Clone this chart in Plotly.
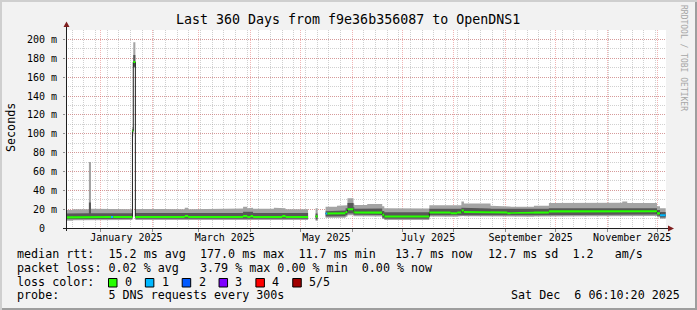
import plotly.graph_objects as go
import pandas as pd

# ---------------- data ----------------
graph_start = "2024-12-11 06:10:20"
graph_end = "2025-12-06 06:10:20"

seg_start = [
    "2024-12-11 06:10", "2024-12-15 12:00", "2024-12-25 00:00", "2024-12-26 06:00",
    "2025-01-01 00:00", "2025-01-07 06:00", "2025-01-08 12:00", "2025-01-20 03:00",
    "2025-01-20 15:00", "2025-01-21 21:00", "2025-02-05 00:00", "2025-02-20 12:00",
    "2025-02-22 12:00", "2025-03-10 00:00", "2025-03-27 12:00", "2025-03-30 00:00",
    "2025-04-01 00:00", "2025-04-02 12:00", "2025-04-15 00:00", "2025-04-20 00:00",
    "2025-04-22 00:00", "2025-05-05 12:00", "2025-05-10 00:00", "2025-05-11 06:00",
    "2025-05-16 00:00", "2025-05-17 00:00", "2025-05-22 20:00", "2025-05-28 00:00",
    "2025-05-29 03:00", "2025-06-01 18:00", "2025-06-02 06:00", "2025-06-10 00:00",
    "2025-06-19 00:00", "2025-06-20 06:00", "2025-07-05 00:00", "2025-07-17 06:00",
    "2025-07-30 00:00", "2025-08-03 00:00", "2025-08-05 12:00", "2025-08-07 00:00",
    "2025-08-23 00:00", "2025-09-02 00:00", "2025-09-04 00:00", "2025-09-18 00:00",
    "2025-09-27 00:00", "2025-10-15 00:00", "2025-11-10 00:00", "2025-11-13 00:00",
    "2025-11-30 20:00", "2025-12-02 16:00",
]
data_end = "2025-12-06 02:00"

N = None
ping1 = [7.7, 8.3, 8.4, 8.6, 8.6, 8.6, 8.6, 97, 170, 8.6, 8.6, 8.6, 8.6, 8.8, 8.8, 8.8,
         8.8, 8.8, 8.8, 8.8, 8.6, N, 7.7, N, 10.8, 10.8, 11.0, 12.0, 13.5, 12.5, 12.3, 12.3,
         9.5, 8.4, 8.4, 12.3, 12.0, 12.3, 12.8, 12.5, 12.3, 12.0, 12.0, 12.3, 12.8, 12.8,
         12.8, 12.8, 11.5, 9.8]
ping2 = [9.4, 9.6, 9.6, 9.8, 9.8, 9.8, 9.8, 100, 171, 9.8, 9.8, 9.8, 9.8, 10.0, 10.0, 10.0,
         10.0, 10.0, 10.0, 10.0, 9.8, N, 9.0, N, 12.3, 12.3, 12.5, 13.5, 15.5, 14.0, 13.8, 13.8,
         11.0, 9.8, 9.8, 13.6, 13.4, 13.6, 14.0, 13.8, 13.6, 13.4, 13.4, 13.6, 14.2, 14.2,
         14.2, 14.2, 13.0, 11.2]
median = [11.3, 11.6, 11.8, 11.6, 11.6, 11.6, 11.6, 103, 176, 11.6, 11.6, 12.6, 11.6, 11.6, 12.6, 11.6,
          12.6, 11.6, 11.6, 12.6, 11.6, N, 12.3, N, 15.3, 15.3, 15.6, 17.0, 19.8, 17.5, 16.5, 16.3,
          14.0, 12.2, 12.2, 16.5, 15.6, 16.5, 18.5, 17.0, 16.4, 15.6, 16.2, 16.5, 17.6, 17.8,
          17.8, 17.8, 15.5, 13.5]
ping4 = [15.4, 15.6, 27.0, 15.6, 15.8, 15.8, 15.6, 105, 183.5, 16.0, 15.8, 16.2, 15.8, 15.8, 17.2, 16.5,
         17.3, 15.8, 15.6, 16.2, 15.8, N, 15.5, N, 17.8, 17.8, 18.5, 21.0, 26.5, 22.0, 20.5, 20.8,
         18.0, 16.8, 16.6, 20.5, 20.3, 20.5, 21.5, 20.8, 20.5, 20.0, 20.0, 20.5, 21.0, 21.0,
         21.5, 21.0, 19.0, 17.0]
ping5 = [19.2, 20.0, 70.0, 20.4, 19.8, 20.2, 20.0, 107, 197, 20.4, 20.0, 21.5, 20.0, 20.6, 22.5, 21.0,
         21.5, 20.5, 21.5, 21.0, 20.0, N, 21.0, N, 22.5, 22.5, 23.6, 24.0, 31.5, 26.0, 24.5, 25.5,
         23.0, 21.0, 20.6, 24.0, 24.5, 24.0, 28.0, 26.0, 23.5, 22.8, 22.6, 23.5, 26.5, 26.8,
         28.0, 26.6, 23.0, 21.0]
loss = [0, 0, 0, 0, 0, 1, 0, 0, 0, 0, 0, 0, 0, 0, 0, 0,
        0, 0, 0, 0, 0, N, 0, N, 1, 0, 0, 0, 0, 0, 0, 0,
        0, 0, 0, 0, 0, 0, 0, 0, 0, 0, 0, 0, 0, 0,
        0, 0, 0, 1]

loss_labels = ["0", "1", "2", "3", "4", "5/5"]
loss_colors = ["#26ff00", "#00b8ff", "#0059ff", "#7e00ff", "#ff0000", "#a10000"]

y_ticks = [0, 20, 40, 60, 80, 100, 120, 140, 160, 180, 200]
y_ticktext = ["0\u00a0\u00a0"] + [f"{v} m" for v in y_ticks[1:]]
month_labels = ["January 2025", "March 2025", "May 2025", "July 2025",
                "September 2025", "November 2025"]
month_starts = ["2025-01-01", "2025-03-01", "2025-05-01", "2025-07-01",
                "2025-09-01", "2025-11-01"]

title = "Last 360 Days from f9e36b356087 to OpenDNS1"
# legend pieces: (text, left x in px, line index)
legend_pieces = [
    ("median rtt:  15.2 ms avg  177.0 ms max  11.7 ms min", 15.4, 0),
    ("13.7 ms now", 392.7, 0),
    ("12.7 ms sd  1.2   am/s", 486.0, 0),
    ("packet loss: 0.02 % avg   3.79 % max 0.00 % min  0.00 % now", 15.4, 1),
    ("loss color:", 15.4, 2),
    ("probe:       5 DNS requests every 300s", 15.4, 3),
]
date_text = "Sat Dec  6 06:10:20 2025"

# ---------------- geometry helpers ----------------
W, H = 697, 310
L, R, T, B = 66, 666, 30, 228
PW, PH = R - L, B - T


def px(x):
    return (x - L) / PW


def py(y):
    return (B - y) / PH


starts = [pd.Timestamp(s).to_pydatetime() for s in seg_start]
ends = starts[1:] + [pd.Timestamp(data_end).to_pydatetime()]
n = len(starts)


def runs(keyfun):
    out, cur, curkey = [], [], object()
    for i in range(n):
        k = keyfun(i)
        if k is None:
            if cur:
                out.append((curkey, cur))
            cur, curkey = [], object()
            continue
        if cur and k == curkey:
            cur.append(i)
        else:
            if cur:
                out.append((curkey, cur))
            cur, curkey = [i], k
    if cur:
        out.append((curkey, cur))
    return out


def band(lo, hi, idxs):
    xs, ys = [], []
    for i in idxs:
        xs += [starts[i], ends[i]]
        ys += [hi[i], hi[i]]
    for i in reversed(idxs):
        xs += [ends[i], starts[i]]
        ys += [lo[i], lo[i]]
    xs.append(xs[0]); ys.append(ys[0])
    xs.append(None); ys.append(None)
    return xs, ys


data_runs = runs(lambda i: None if median[i] is None else 1)

fig = go.Figure()

# smoke: outer (ping1..ping5) and inner (ping2..ping4)
for lo, hi, col in [(ping1, ping5, "#a4a4a4"), (ping2, ping4, "#585858")]:
    X, Y = [], []
    for _, idxs in data_runs:
        x, y = band(lo, hi, idxs)
        X += x; Y += y
    fig.add_trace(go.Scatter(x=X, y=Y, mode="lines", fill="toself", fillcolor=col,
                             line=dict(width=0, color=col), hoverinfo="skip",
                             showlegend=False))

# thin dark median line
MX, MY = [], []
for _, idxs in data_runs:
    for i in idxs:
        MX.append(starts[i]); MY.append(median[i])
    MX.append(ends[idxs[-1]]); MY.append(median[idxs[-1]])
    MX.append(None); MY.append(None)
fig.add_trace(go.Scatter(x=MX, y=MY, mode="lines", line=dict(color="#202020", width=1,
                         shape="hv"), hoverinfo="skip", showlegend=False, connectgaps=False))

# loss-coloured median band
sw = 1.1
med_lo = [None if m is None else m - sw for m in median]
med_hi = [None if m is None else m + sw for m in median]
by_color = {}
for key, idxs in runs(lambda i: loss[i]):
    x, y = band(med_lo, med_hi, idxs)
    bx, by = by_color.setdefault(key, ([], []))
    bx += x; by += y
for key, (bx, by) in sorted(by_color.items()):
    fig.add_trace(go.Scatter(x=bx, y=by, mode="lines", fill="toself",
                             fillcolor=loss_colors[key], line=dict(width=0, color=loss_colors[key]),
                             hoverinfo="skip", showlegend=False))

# dummy trace so the grid axis exists
fig.add_trace(go.Scatter(x=[graph_start, graph_end], y=[-50, -50], xaxis="x2",
                         mode="lines", line=dict(width=0), hoverinfo="skip", showlegend=False))

# month-centred tick positions
tickvals = []
for s in month_starts:
    a = pd.Timestamp(s)
    b = a + pd.offsets.MonthBegin(1)
    tickvals.append((a + (b - a) / 2).to_pydatetime())

GRID = "rgba(143,143,143,0.42)"
MGRID = "rgba(222,79,79,0.42)"
MONO = "DejaVu Sans Mono"

fig.update_layout(
    width=W, height=H, autosize=False,
    margin=dict(l=L, r=W - R, t=T, b=H - B, pad=0),
    paper_bgcolor="#f2f2f2", plot_bgcolor="#ffffff",
    font=dict(family=MONO, size=10, color="#000000"),
    showlegend=False,
    xaxis=dict(type="date", range=[graph_start, graph_end], tickmode="array",
               tickvals=tickvals, ticktext=month_labels, showgrid=False, zeroline=False,
               ticks="", showline=False, tickfont=dict(family=MONO, size=10),
               ticklabelstandoff=2, fixedrange=True),
    xaxis2=dict(type="date", range=[graph_start, graph_end], overlaying="x", side="bottom",
                anchor="y", tick0="2025-01-01", dtick="M1", showticklabels=False,
                showgrid=True, gridcolor=MGRID, griddash="1px,1px", gridwidth=1,
                ticks="outside", ticklen=3, tickcolor="#8f8f8f", zeroline=False,
                minor=dict(dtick=7 * 86400000, tick0="2024-12-22", showgrid=True,
                           gridcolor=GRID, griddash="1px,1px", gridwidth=1),
                fixedrange=True),
    yaxis=dict(range=[0, 210], tickmode="array", tickvals=y_ticks, ticktext=y_ticktext,
               showgrid=True, gridcolor=MGRID, griddash="1px,1px", gridwidth=1,
               zeroline=False, showline=False, ticks="outside", ticklen=2,
               tickcolor="#8f8f8f", tickfont=dict(family=MONO, size=10),
               ticklabelstandoff=4,
               minor=dict(dtick=10, tick0=0, showgrid=True, gridcolor=GRID,
                          griddash="1px,1px", gridwidth=1),
               fixedrange=True),
)

shapes = []
AX = "#1f1f1f"
ARROW = "#7f1f1f"
# axes lines
shapes.append(dict(type="line", xref="paper", yref="paper", x0=px(L + 0.5), x1=px(L + 0.5),
                   y0=py(B + 3), y1=py(T - 3), line=dict(color=AX, width=1)))
shapes.append(dict(type="line", xref="paper", yref="paper", x0=px(L - 3), x1=px(R + 3),
                   y0=py(B + 0.5), y1=py(B + 0.5), line=dict(color=AX, width=1)))
# arrows
shapes.append(dict(type="path", xref="paper", yref="paper",
                   path=f"M {px(L-2.5)} {py(T-3)} L {px(L+3.5)} {py(T-3)} L {px(L+0.5)} {py(T-8.5)} Z",
                   fillcolor=ARROW, line=dict(color=ARROW, width=0)))
shapes.append(dict(type="path", xref="paper", yref="paper",
                   path=f"M {px(R+2)} {py(B-2.5)} L {px(R+2)} {py(B+3.5)} L {px(R+8)} {py(B+0.5)} Z",
                   fillcolor=ARROW, line=dict(color=ARROW, width=0)))
# 3D frame
shapes.append(dict(type="rect", xref="paper", yref="paper", x0=px(0), x1=px(W), y0=py(0),
                   y1=py(2), fillcolor="#cfcfcf", line=dict(width=0)))
shapes.append(dict(type="rect", xref="paper", yref="paper", x0=px(0), x1=px(2), y0=py(0),
                   y1=py(H), fillcolor="#cfcfcf", line=dict(width=0)))
shapes.append(dict(type="rect", xref="paper", yref="paper", x0=px(2), x1=px(W), y0=py(H - 2),
                   y1=py(H), fillcolor="#9e9e9e", line=dict(width=0)))
shapes.append(dict(type="rect", xref="paper", yref="paper", x0=px(W - 2), x1=px(W), y0=py(2),
                   y1=py(H), fillcolor="#9e9e9e", line=dict(width=0)))
# loss colour boxes
for i, c in enumerate(loss_colors):
    x0 = 108.5 + 36.85 * i
    shapes.append(dict(type="rect", xref="paper", yref="paper", x0=px(x0), x1=px(x0 + 8.5),
                       y0=py(287), y1=py(278.5), fillcolor=c,
                       line=dict(color="#000000", width=1)))
fig.update_layout(shapes=shapes)

ann = []


def text(x, y, s, size, xanchor="left", angle=0, color="#000000"):
    ann.append(dict(x=px(x), y=py(y), xref="paper", yref="paper", text=s.replace(" ", "\u00a0"),
                    showarrow=False, xanchor=xanchor, yanchor="middle", textangle=angle,
                    font=dict(family=MONO, size=size, color=color)))


text(347.5, 19.4, title, 13.3, xanchor="center")
text(10.5, 127.5, "Seconds", 11.7, xanchor="center", angle=-90)
legend_y = [254.2, 267.6, 281.6, 295.2]
for s, x, li in legend_pieces:
    text(x, legend_y[li], s, 11.7)
for i, lab in enumerate(loss_labels):
    text(122.7 + 36.9 * i, legend_y[2], lab, 11.7)
text(681.5, legend_y[3], date_text, 11.7, xanchor="right")
text(683.5, 58.5, "RRDTOOL / TOBI OETIKER", 8, xanchor="center", angle=90, color="#a6a6a6")
fig.update_layout(annotations=ann)

fig.write_html("out.html")
